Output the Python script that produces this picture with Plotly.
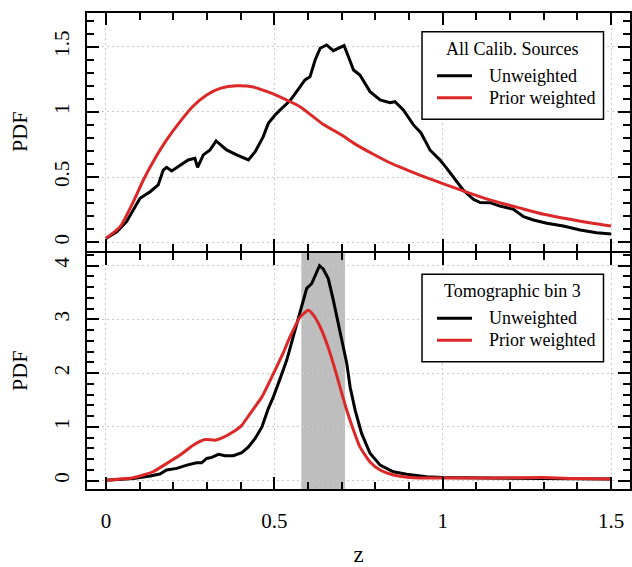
import plotly.graph_objects as go

# ---------------- data ----------------
# Top panel: all calibration sources
z_all_unw = [0.0, 0.032, 0.061, 0.081, 0.101, 0.131, 0.155, 0.17, 0.18, 0.195, 0.215, 0.244,
             0.264, 0.272, 0.289, 0.309, 0.327, 0.358, 0.388, 0.423, 0.443, 0.467, 0.482,
             0.502, 0.522, 0.546, 0.566, 0.591, 0.606, 0.621, 0.636, 0.655, 0.675, 0.69,
             0.707, 0.72, 0.735, 0.754, 0.784, 0.814, 0.843, 0.858, 0.883, 0.913, 0.935,
             0.962, 0.992, 1.012, 1.042, 1.061, 1.091, 1.111, 1.14, 1.17, 1.21, 1.24,
             1.269, 1.309, 1.358, 1.408, 1.457, 1.5]
pdf_all_unw = [0.03, 0.08, 0.158, 0.248, 0.337, 0.388, 0.44, 0.554, 0.575, 0.547, 0.58, 0.631,
               0.644, 0.575, 0.67, 0.708, 0.777, 0.708, 0.67, 0.631, 0.695, 0.81, 0.912,
               0.976, 1.027, 1.085, 1.155, 1.245, 1.27, 1.398, 1.488, 1.513, 1.469, 1.488,
               1.508, 1.423, 1.321, 1.283, 1.155, 1.091, 1.07, 1.078, 1.015, 0.9, 0.84,
               0.708, 0.63, 0.567, 0.46, 0.40, 0.33, 0.305, 0.304, 0.278, 0.253, 0.196,
               0.171, 0.146, 0.125, 0.094, 0.074, 0.064]

z_all_pri = [0.0, 0.042, 0.081, 0.111, 0.14, 0.18, 0.22, 0.259, 0.299, 0.339, 0.388, 0.438,
             0.487, 0.537, 0.576, 0.645, 0.695, 0.745, 0.794, 0.843, 0.893, 0.942, 1.0,
             1.071, 1.14, 1.23, 1.30, 1.378, 1.44, 1.5]
pdf_all_pri = [0.03, 0.12, 0.31, 0.478, 0.618, 0.785, 0.925, 1.045, 1.13, 1.18, 1.20, 1.19,
               1.147, 1.09, 1.04, 0.905, 0.83, 0.745, 0.675, 0.61, 0.556, 0.505, 0.45,
               0.385, 0.325, 0.262, 0.215, 0.176, 0.148, 0.125]

# Bottom panel: tomographic bin 3
z_bin_unw = [0.0, 0.042, 0.081, 0.131, 0.16, 0.18, 0.21, 0.24, 0.269, 0.284, 0.299, 0.314,
             0.334, 0.354, 0.378, 0.403, 0.423, 0.443, 0.463, 0.482, 0.497, 0.517, 0.537,
             0.556, 0.576, 0.591, 0.596, 0.611, 0.621, 0.634, 0.645, 0.66, 0.675, 0.69,
             0.705, 0.715, 0.725, 0.74, 0.759, 0.784, 0.814, 0.853, 0.893, 0.952, 1.0,
             1.1, 1.2, 1.3, 1.4, 1.5]
pdf_bin_unw = [0.01, 0.026, 0.04, 0.087, 0.124, 0.2, 0.23, 0.29, 0.334, 0.334, 0.415, 0.434,
               0.49, 0.465, 0.465, 0.52, 0.63, 0.787, 1.0, 1.343, 1.56, 1.9, 2.25,
               2.68, 3.12, 3.48, 3.58, 3.67, 3.82, 4.0, 3.94, 3.76, 3.36, 2.92,
               2.49, 2.18, 1.74, 1.31, 0.88, 0.51, 0.29, 0.167, 0.119, 0.074, 0.06,
               0.055, 0.05, 0.05, 0.04, 0.03]

z_bin_pri = [0.0, 0.081, 0.111, 0.14, 0.18, 0.22, 0.259, 0.294, 0.324, 0.348, 0.378, 0.403,
             0.428, 0.463, 0.497, 0.527, 0.546, 0.576, 0.601, 0.616, 0.636, 0.656, 0.675,
             0.695, 0.715, 0.735, 0.754, 0.784, 0.814, 0.853, 0.912, 1.0, 1.1, 1.2, 1.3,
             1.4, 1.5]
pdf_bin_pri = [0.01, 0.056, 0.106, 0.167, 0.32, 0.477, 0.66, 0.767, 0.755, 0.805, 0.91, 1.03,
               1.25, 1.56, 1.99, 2.39, 2.67, 3.04, 3.17, 3.08, 2.86, 2.55, 2.18,
               1.74, 1.31, 0.94, 0.63, 0.35, 0.20, 0.106, 0.056, 0.05, 0.05, 0.055, 0.06,
               0.04, 0.03]

band_lo, band_hi = 0.58, 0.71
x_ticks = [0, 0.5, 1, 1.5]
x_ticklabels = ["0", "0.5", "1", "1.5"]
legend_titles = ["All Calib. Sources", "Tomographic bin 3"]
series_names = ["Unweighted", "Prior weighted"]

# ---------------- style ----------------
W, H = 632, 567
ML, MR, MT, MB = 87, 2, 13, 78
BLACK = "#000000"
RED = "#dc2828"
FONT = "Liberation Serif"

def PX(px):
    return (px - ML) / (W - ML - MR)

def PY(py):
    return (H - MB - py) / (H - MT - MB)

fig = go.Figure()
fig.add_trace(go.Scatter(x=z_all_unw, y=pdf_all_unw, mode="lines", name=series_names[0],
                         line=dict(color=BLACK, width=3), xaxis="x", yaxis="y"))
fig.add_trace(go.Scatter(x=z_all_pri, y=pdf_all_pri, mode="lines", name=series_names[1],
                         line=dict(color=RED, width=3, shape="spline", smoothing=0.6),
                         xaxis="x", yaxis="y"))
fig.add_trace(go.Scatter(x=z_bin_unw, y=pdf_bin_unw, mode="lines", name=series_names[0],
                         line=dict(color=BLACK, width=3), xaxis="x2", yaxis="y2"))
fig.add_trace(go.Scatter(x=z_bin_pri, y=pdf_bin_pri, mode="lines", name=series_names[1],
                         line=dict(color=RED, width=3, shape="spline", smoothing=0.5),
                         xaxis="x2", yaxis="y2"))

axis_common = dict(showline=True, linewidth=2, linecolor=BLACK, mirror="ticks",
                   ticks="inside", ticklen=12, tickwidth=1.5, tickcolor=BLACK,
                   showgrid=True, gridcolor="#c8c8c8", gridwidth=1, griddash="2px,3px",
                   zeroline=False, automargin=False,
                   tickfont=dict(family=FONT, size=21, color=BLACK))
minor_common = dict(ticks="inside", ticklen=7, tickwidth=1.5, tickcolor=BLACK, showgrid=False)

xr = [-0.0564, 1.556]
fig.update_layout(
    width=W, height=H,
    margin=dict(l=ML, r=MR, t=MT, b=MB),
    paper_bgcolor="white", plot_bgcolor="white",
    showlegend=False,
    font=dict(family=FONT, color=BLACK),
    xaxis=dict(axis_common, domain=[0, 1], anchor="y", range=xr, matches="x2",
               tickvals=x_ticks, ticktext=x_ticklabels, showticklabels=False,
               minor=dict(minor_common, dtick=0.1, tick0=0)),
    xaxis2=dict(axis_common, domain=[0, 1], anchor="y2", range=xr,
                tickvals=x_ticks, ticktext=x_ticklabels, ticklabelstandoff=12,
                minor=dict(minor_common, dtick=0.1, tick0=0),
                title=dict(text="z", font=dict(family=FONT, size=23), standoff=32)),
    yaxis=dict(axis_common, domain=[0.501, 1], anchor="x", range=[-0.063, 1.758],
               tick0=0, dtick=0.5, tickangle=-90, ticklabelstandoff=8,
               minor=dict(minor_common, dtick=0.1, tick0=0),
               title=dict(text="PDF", font=dict(family=FONT, size=22), standoff=16)),
    yaxis2=dict(axis_common, domain=[0, 0.4968], anchor="x2", range=[-0.154, 4.246],
                tick0=0, dtick=1, tickangle=-90, ticklabelstandoff=8,
                minor=dict(minor_common, dtick=0.2, tick0=0),
                title=dict(text="PDF", font=dict(family=FONT, size=22), standoff=16)),
)

# highlighted bin range (bottom panel)
fig.add_shape(type="rect", xref="x2", yref="y2 domain", x0=band_lo, x1=band_hi, y0=0, y1=1,
              fillcolor="#bebebe", line=dict(width=0), layer="below")

# legends drawn as boxes
def legend_box(top_px, title):
    left, right, height = 422.0, 603.5, 87.5
    fig.add_shape(type="rect", xref="paper", yref="paper",
                  x0=PX(left), x1=PX(right), y0=PY(top_px + height), y1=PY(top_px),
                  line=dict(color=BLACK, width=1.5), fillcolor="white", layer="above")
    fig.add_annotation(xref="paper", yref="paper", x=PX((left + right) / 2), y=PY(top_px + 17),
                       text=title, showarrow=False, xanchor="center", yanchor="middle",
                       font=dict(family=FONT, size=18, color=BLACK))
    for name, col, dy in zip(series_names, [BLACK, RED], [44, 66]):
        fig.add_shape(type="line", xref="paper", yref="paper",
                      x0=PX(437), x1=PX(472), y0=PY(top_px + dy), y1=PY(top_px + dy),
                      line=dict(color=col, width=3), layer="above")
        fig.add_annotation(xref="paper", yref="paper", x=PX(487), y=PY(top_px + dy),
                           text=name, showarrow=False, xanchor="left", yanchor="middle",
                           font=dict(family=FONT, size=18, color=BLACK))

legend_box(31.7, legend_titles[0])
legend_box(274.3, legend_titles[1])

fig.write_html("out.html", config={"displayModeBar": False},
               post_script="document.body.style.margin='0';")
